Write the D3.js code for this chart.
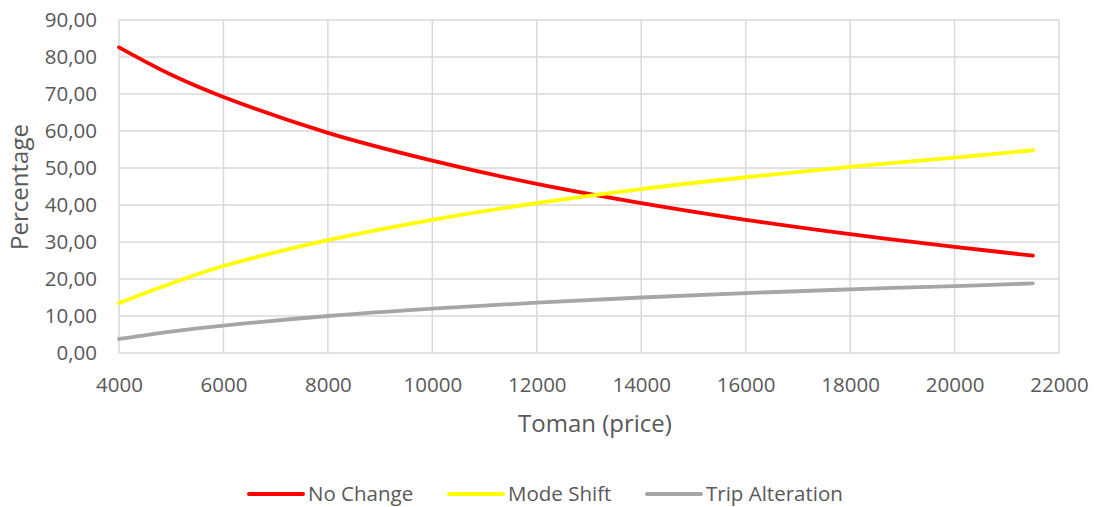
<!DOCTYPE html>
<html>
<head>
<meta charset="utf-8">
<script src="https://cdn.jsdelivr.net/npm/d3@7"></script>
<style>
  body { margin: 0; background: #fff; }
  text { font-family: "Open Sans", sans-serif; fill: #595959; }
  .grid line { stroke: #d9d9d9; stroke-width: 1.5; }
  .axis path, .axis line { display: none; }
</style>
</head>
<body>
<div id="chart"></div>
<script>
// Chart values
var prices = [4000, 5000, 6000, 8000, 10000, 12000, 14000, 16000, 18000, 20000, 21500];
var noChange = [82.6, 75.2, 69.2, 59.5, 52.0, 45.7, 40.5, 36.0, 32.1, 28.7, 26.3];
var modeShift = [13.5, 18.8, 23.5, 30.5, 36.0, 40.5, 44.3, 47.5, 50.3, 52.8, 54.8];
var tripAlteration = [3.8, 5.8, 7.4, 10.0, 12.0, 13.6, 15.0, 16.2, 17.2, 18.1, 18.8];
var seriesNames = ["No Change", "Mode Shift", "Trip Alteration"];
var seriesColors = ["#ff0000", "#ffff00", "#a6a6a6"];
var xTicks = d3.range(4000, 22001, 2000);
var yTicks = d3.range(0, 90.1, 10);

var W = 1095, H = 507;
var margin = {top: 20, right: 36, bottom: 154, left: 119};
var width = W - margin.left - margin.right,
    height = H - margin.top - margin.bottom;

var svg = d3.select("#chart").append("svg")
    .attr("width", W)
    .attr("height", H);
var g = svg.append("g").attr("transform", "translate(" + margin.left + "," + margin.top + ")");

var x = d3.scaleLinear().domain([4000, 22000]).range([0, width]);
var y = d3.scaleLinear().domain([0, 90]).range([height, 0]);

// Gridlines
g.append("g").attr("class", "grid")
  .selectAll("line").data(yTicks).enter().append("line")
    .attr("x1", 0).attr("x2", width)
    .attr("y1", function(d) { return y(d); }).attr("y2", function(d) { return y(d); });
g.append("g").attr("class", "grid")
  .selectAll("line").data(xTicks).enter().append("line")
    .attr("y1", 0).attr("y2", height)
    .attr("x1", function(d) { return x(d); }).attr("x2", function(d) { return x(d); });

// Axes (labels only)
var fmt = function(d) { return d3.format(".2f")(d).replace(".", ","); };
g.append("g").attr("class", "axis")
    .call(d3.axisLeft(y).tickValues(yTicks).tickFormat(fmt).tickSize(0).tickPadding(22))
  .selectAll("text").style("font-size", "20.5px");
g.append("g").attr("class", "axis")
    .attr("transform", "translate(0," + height + ")")
    .call(d3.axisBottom(x).tickValues(xTicks).tickFormat(d3.format("d")).tickSize(0).tickPadding(24))
  .selectAll("text").style("font-size", "20.5px");

// Axis titles
svg.append("text")
    .attr("x", 595).attr("y", 432)
    .attr("text-anchor", "middle")
    .style("font-size", "24px")
    .text("Toman (price)");
svg.append("text")
    .attr("transform", "translate(28,187) rotate(-90)")
    .attr("text-anchor", "middle")
    .style("font-size", "24px")
    .text("Percentage");

// Lines
var allSeries = [noChange, modeShift, tripAlteration];
var line = d3.line()
    .curve(d3.curveCatmullRom)
    .x(function(d, i) { return x(prices[i]); })
    .y(function(d) { return y(d); });

g.selectAll("path.series").data(allSeries).enter().append("path")
    .attr("class", "series")
    .attr("fill", "none")
    .attr("stroke", function(d, i) { return seriesColors[i]; })
    .attr("stroke-width", 3.8)
    .attr("stroke-linecap", "round")
    .attr("d", line);

// Legend
var legendX = [249, 449, 647];
var legend = svg.append("g").selectAll("g").data(seriesNames).enter().append("g")
    .attr("transform", function(d, i) { return "translate(" + legendX[i] + ",494)"; });
legend.append("line")
    .attr("x1", 0).attr("x2", 54)
    .attr("stroke", function(d, i) { return seriesColors[i]; })
    .attr("stroke-width", 4)
    .attr("stroke-linecap", "round");
legend.append("text")
    .attr("x", 59).attr("dy", "0.35em")
    .style("font-size", "20.5px")
    .text(function(d) { return d; });
</script>
</body>
</html>
